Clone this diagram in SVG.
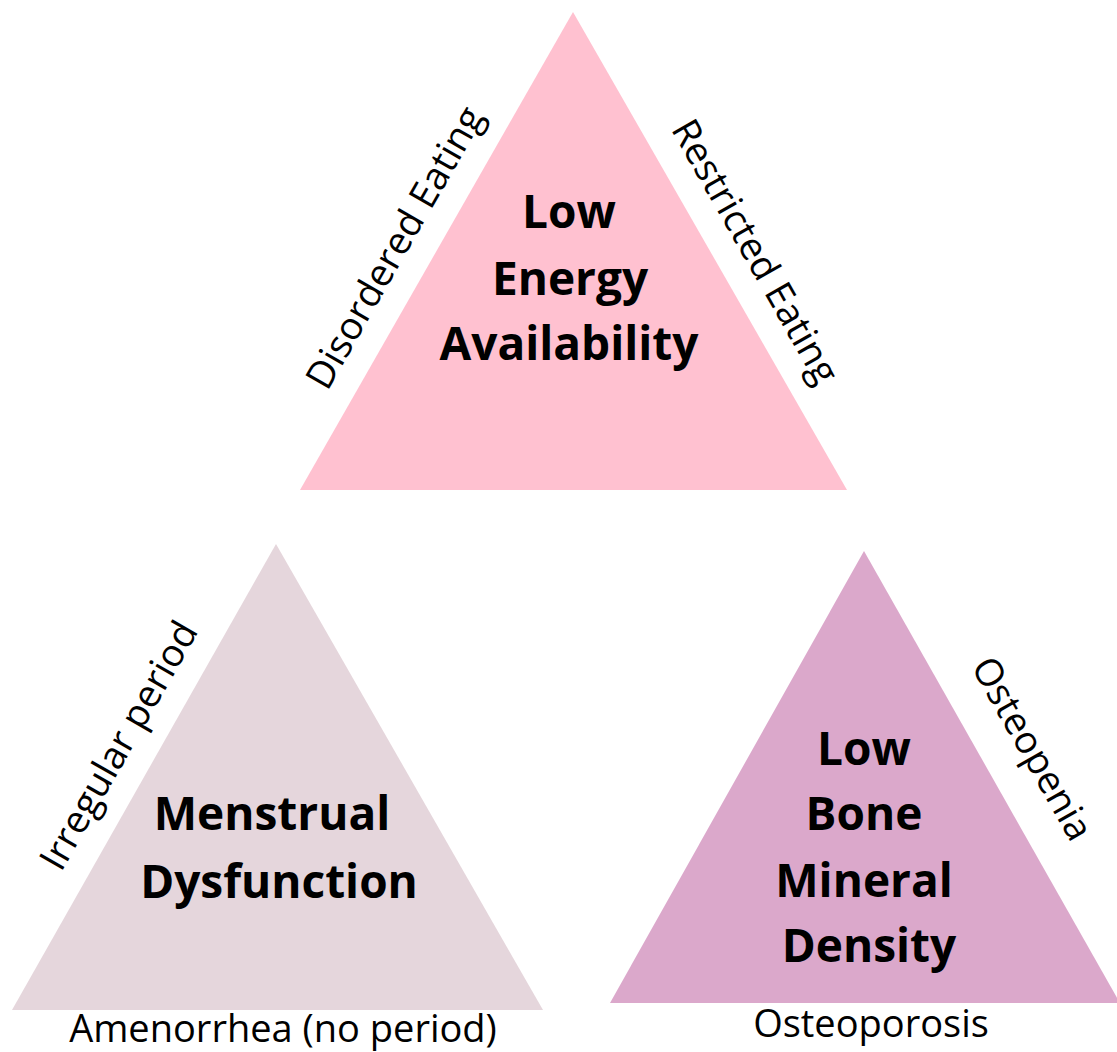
<svg xmlns="http://www.w3.org/2000/svg" width="1117" height="1052" viewBox="0 0 1117 1052">
<style>
.title{font-family:"Open Sans","Noto Sans","Liberation Sans",sans-serif;font-weight:700;font-size:46px;fill:#000;text-anchor:middle}
.side{font-family:"Open Sans","Noto Sans","Liberation Sans",sans-serif;font-weight:400;font-size:38px;fill:#000;text-anchor:middle}
</style>
<rect width="1117" height="1052" fill="#fff"/>
<g id="lea">
<polygon points="573,12 847,490 300,490" fill="#FFC1D0"/>
<text class="title" x="569" y="228">Low</text>
<text class="title" x="570" y="295">Energy</text>
<text class="title" x="569" y="360">Availability</text>
<text class="side" transform="translate(406,254) rotate(-60.3)">Disordered Eating</text>
<text class="side" transform="translate(744,258) rotate(60.3)">Restricted Eating</text>
</g>
<g id="md">
<polygon points="276,544 543,1010 12,1010" fill="#E5D6DC"/>
<text class="title" x="272" y="830">Menstrual</text>
<text class="title" x="279" y="898">Dysfunction</text>
<text class="side" transform="translate(130,752) rotate(-60.3)">Irregular period</text>
<text class="side" x="283" y="1042">Amenorrhea (no period)</text>
</g>
<g id="lbmd">
<polygon points="864,551 1120,1003 610,1003" fill="#DBA8CB"/>
<text class="title" x="864" y="765">Low</text>
<text class="title" x="864" y="830">Bone</text>
<text class="title" x="864" y="897">Mineral</text>
<text class="title" x="869" y="962">Density</text>
<text class="side" transform="translate(1021,755) rotate(60.3)">Osteopenia</text>
<text class="side" x="871" y="1037">Osteoporosis</text>
</g>
<g id="connectors"></g>
</svg>
